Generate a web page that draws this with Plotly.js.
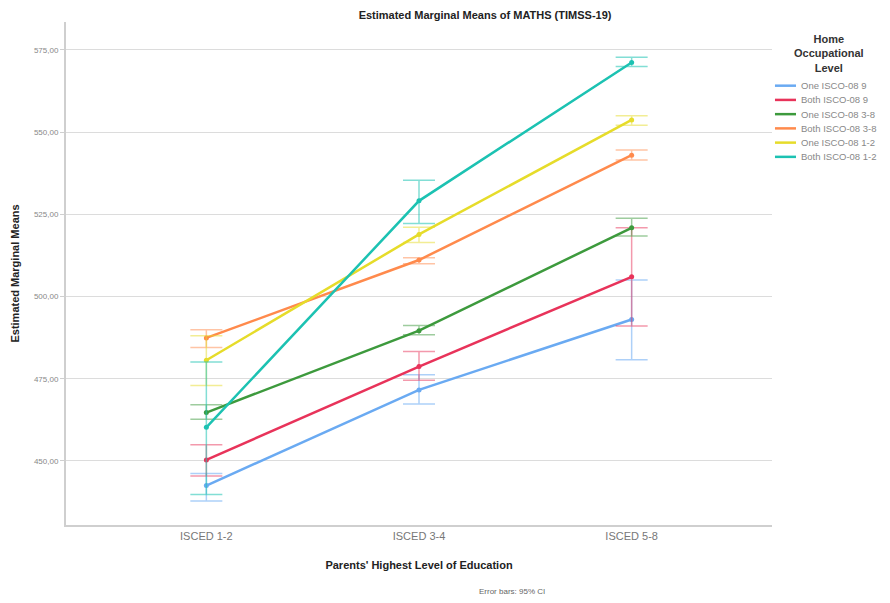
<!DOCTYPE html>
<html><head><meta charset="utf-8">
<script src="https://cdn.plot.ly/plotly-3.0.1.min.js"></script>
<style>html,body{margin:0;padding:0;background:#fff}</style>
</head><body><div id="chart" style="width:890px;height:603px"></div>
<script>
const categories = ["ISCED 1-2", "ISCED 3-4", "ISCED 5-8"];
const seriesNames = ["One ISCO-08 9", "Both ISCO-08 9", "One ISCO-08 3-8", "Both ISCO-08 3-8", "One ISCO-08 1-2", "Both ISCO-08 1-2"];
const oneIsco9 = [442.5, 471.6, 493.0];
const oneIsco9Hi = [446.2, 476.2, 505.0];
const oneIsco9Lo = [437.8, 467.3, 480.8];
const bothIsco9 = [450.3, 478.7, 506.0];
const bothIsco9Hi = [454.9, 483.3, 520.9];
const bothIsco9Lo = [445.4, 474.5, 491.0];
const oneIsco38 = [464.7, 489.6, 520.9];
const oneIsco38Hi = [467.1, 491.2, 523.8];
const oneIsco38Lo = [462.7, 488.4, 518.4];
const bothIsco38 = [487.4, 511.1, 543.0];
const bothIsco38Hi = [489.9, 511.8, 544.6];
const bothIsco38Lo = [484.5, 510.0, 541.5];
const oneIsco12 = [480.6, 518.9, 553.7];
const oneIsco12Hi = [488.1, 521.1, 555.0];
const oneIsco12Lo = [472.9, 516.4, 552.1];
const bothIsco12 = [460.2, 529.1, 571.2];
const bothIsco12Hi = [480.1, 535.4, 572.8];
const bothIsco12Lo = [439.8, 522.2, 570.0];
const yTicks = [450, 475, 500, 525, 550, 575];

const means = [oneIsco9, bothIsco9, oneIsco38, bothIsco38, oneIsco12, bothIsco12];
const his = [oneIsco9Hi, bothIsco9Hi, oneIsco38Hi, bothIsco38Hi, oneIsco12Hi, bothIsco12Hi];
const los = [oneIsco9Lo, bothIsco9Lo, oneIsco38Lo, bothIsco38Lo, oneIsco12Lo, bothIsco12Lo];
const colors = ["#6aaaf2", "#e8335a", "#3d9a3d", "#ff8a4c", "#e6dc2a", "#1cc2b2"];
const errColors = ["rgba(106,170,242,0.55)", "rgba(232,51,90,0.5)", "rgba(61,154,61,0.5)", "rgba(255,138,76,0.5)", "rgba(230,220,42,0.5)", "rgba(28,194,178,0.55)"];

const xIdx = categories.map((c, i) => i);
const traces = means.map((m, k) => ({
  type: "scatter", mode: "lines+markers", name: seriesNames[k],
  x: xIdx, y: m,
  line: {color: colors[k], width: 2.5},
  marker: {color: colors[k], size: 5},
  error_y: {type: "data", symmetric: false,
    array: his[k].map((h, i) => h - m[i]),
    arrayminus: los[k].map((l, i) => m[i] - l),
    color: errColors[k], thickness: 1.5, width: 16}
}));

// custom legend (paper coords)
const legShapes = [], legAnn = [];
seriesNames.forEach((n, k) => {
  const yp = 0.8734 - k * 0.0283;
  legShapes.push({type: "line", xref: "paper", yref: "paper", x0: 1.0042, x1: 1.034, y0: yp, y1: yp, line: {color: colors[k], width: 2.5}});
  legAnn.push({text: n, xref: "paper", yref: "paper", x: 1.0382, y: yp, xanchor: "left", yanchor: "middle", showarrow: false, font: {size: 9.5, color: "#888"}});
});
legAnn.push({text: "<b>Home<br>Occupational<br>Level</b>", xref: "paper", yref: "paper", x: 1.0807, y: 0.983, xanchor: "center", yanchor: "top", align: "center", showarrow: false, font: {size: 11, color: "#333"}});
legAnn.push({text: "Error bars: 95% CI", xref: "paper", yref: "paper", x: 0.632, y: -0.133, xanchor: "center", yanchor: "middle", showarrow: false, font: {size: 8, color: "#666"}});

const layout = {
  width: 890, height: 603,
  margin: {l: 66, r: 118, t: 22, b: 78, autoexpand: false},
  paper_bgcolor: "#fff", plot_bgcolor: "#fff",
  font: {family: "Liberation Sans, Arial, sans-serif", color: "#444"},
  separators: ",.",
  showlegend: false,
  title: {text: "<b>Estimated Marginal Means of MATHS (TIMSS-19)</b>", xref: "container", x: 0.545, xanchor: "center", y: 0.975, yanchor: "middle", font: {size: 11, color: "#222"}},
  xaxis: {
    range: [-0.66, 2.66], tickvals: xIdx, ticktext: categories,
    showgrid: false, zeroline: false, showline: true, linecolor: "#cfcfcf", linewidth: 2,
    ticks: "", tickfont: {size: 11, color: "#777"},
    title: {text: "<b>Parents' Highest Level of Education</b>", font: {size: 11, color: "#222"}, standoff: 20}
  },
  yaxis: {
    range: [430.5, 583.5], tickvals: yTicks, tickformat: ".2f",
    showgrid: true, gridcolor: "#dcdcdc", gridwidth: 1, zeroline: false,
    showline: true, linecolor: "#cfcfcf", linewidth: 2,
    ticks: "outside", ticklen: 4, tickcolor: "#cfcfcf", tickfont: {size: 8, color: "#888"},
    title: {text: "<b>Estimated Marginal Means</b>", font: {size: 11, color: "#222"}, standoff: 12}
  },
  shapes: legShapes,
  annotations: legAnn
};
Plotly.newPlot("chart", traces, layout, {displayModeBar: false, staticPlot: true});
</script></body></html>
